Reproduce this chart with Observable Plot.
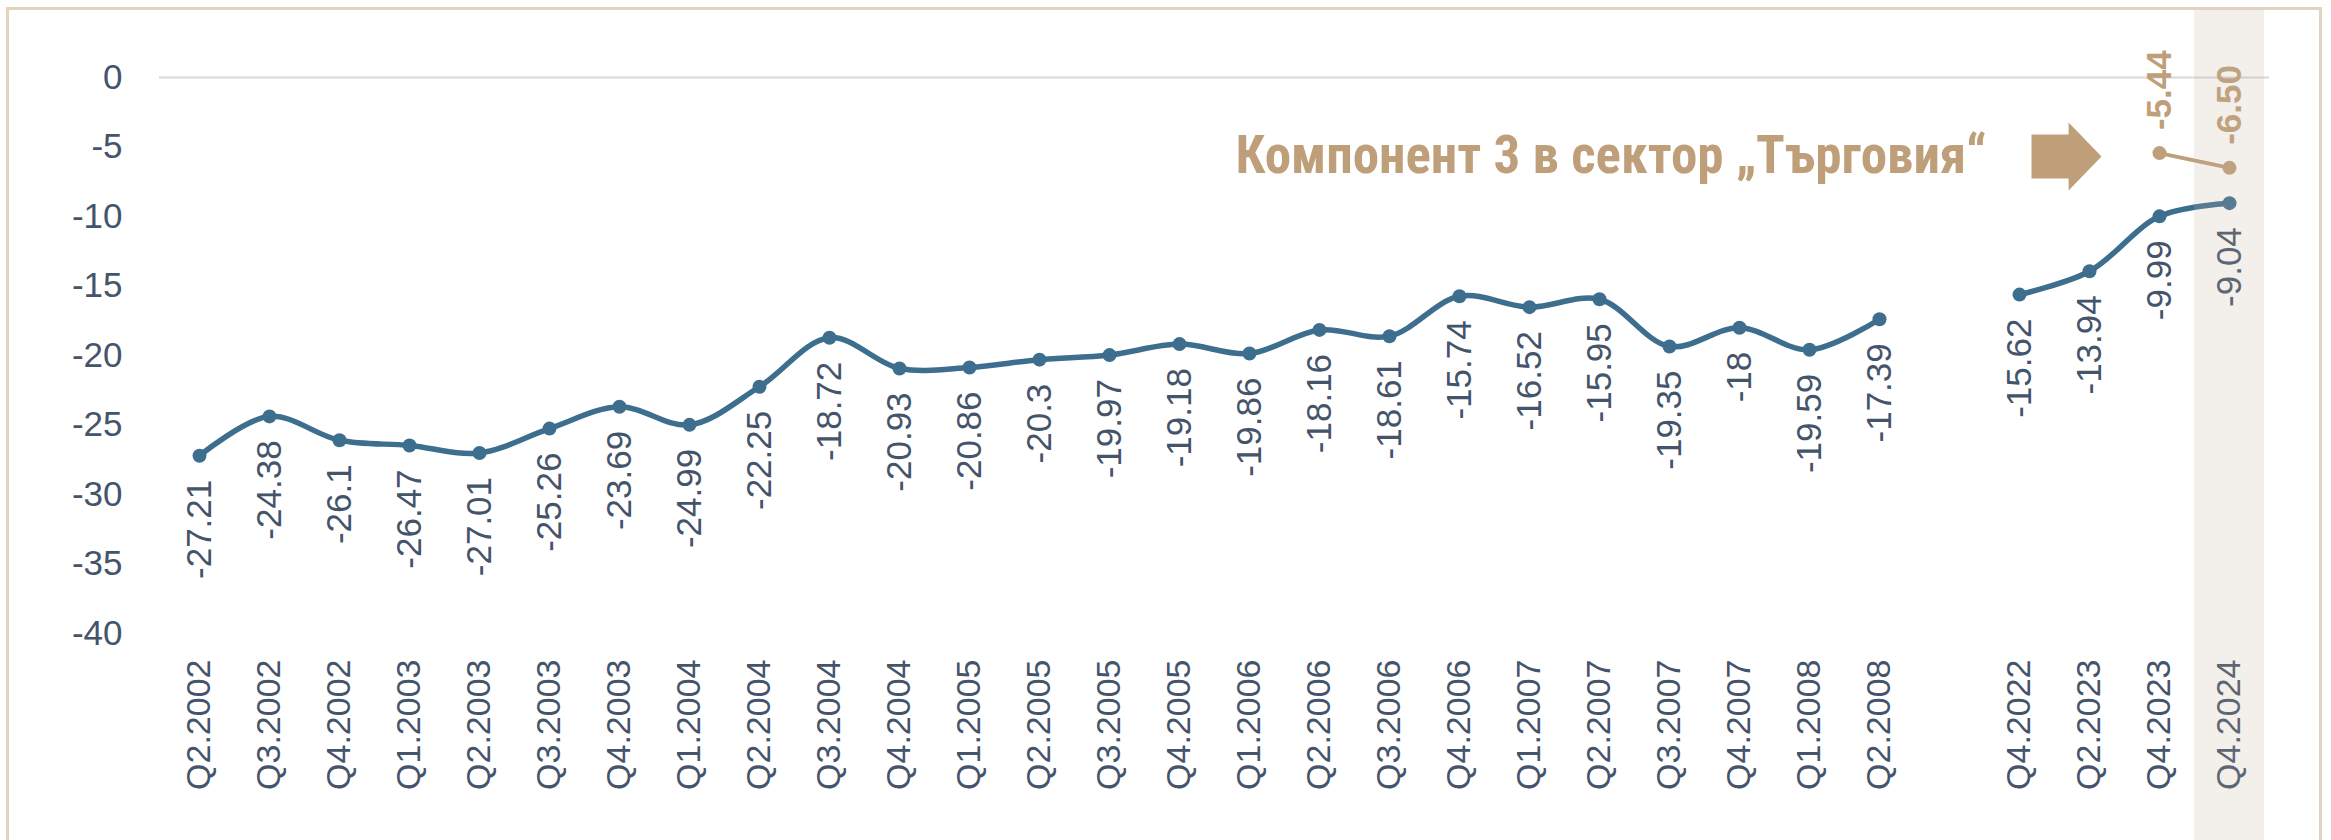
<!DOCTYPE html>
<html>
<head>
<meta charset="utf-8">
<script src="https://cdn.jsdelivr.net/npm/d3@7"></script>
<script src="https://cdn.jsdelivr.net/npm/@observablehq/plot@0.6"></script>
<style>
  html, body { margin: 0; padding: 0; background: #fff; overflow: hidden; width: 2331px; height: 840px; }
  #chart { position: absolute; left: 0; top: 0; }
  #frame { position: absolute; left: 6px; top: 7px; width: 2316px; height: 900px; border: 3px solid #e2d2c0; box-sizing: border-box; pointer-events: none; }
</style>
</head>
<body>
<div id="chart"></div>
<div id="frame"></div>
<script>
const categories = ["Q2.2002","Q3.2002","Q4.2002","Q1.2003","Q2.2003","Q3.2003","Q4.2003","Q1.2004","Q2.2004","Q3.2004","Q4.2004","Q1.2005","Q2.2005","Q3.2005","Q4.2005","Q1.2006","Q2.2006","Q3.2006","Q4.2006","Q1.2007","Q2.2007","Q3.2007","Q4.2007","Q1.2008","Q2.2008"," ","Q4.2022","Q2.2023","Q4.2023","Q4.2024"];
const values = [-27.21,-24.38,-26.1,-26.47,-27.01,-25.26,-23.69,-24.99,-22.25,-18.72,-20.93,-20.86,-20.3,-19.97,-19.18,-19.86,-18.16,-18.61,-15.74,-16.52,-15.95,-19.35,-18,-19.59,-17.39,null,-15.62,-13.94,-9.99,-9.04];
const tradeCategories = ["Q4.2023","Q4.2024"];
const tradeValues = [-5.44,-6.50];
const yTicks = [0,-5,-10,-15,-20,-25,-30,-35,-40];
const annotation = "Компонент 3 в сектор „Търговия“";
const highlight = ["Q4.2024"];

const main = categories.map((c, i) => ({cat: c, v: values[i]}));
const mainDefined = main.filter(d => d.v != null);
const trade = tradeCategories.map((c, i) => ({cat: c, v: tradeValues[i]}));

const blue = "#3d6e8e";
const tan = "#bf9f7a";
const textColor = "#44546a";

// block arrow symbol
const blockArrow = {
  draw(context, size) {
    const r = Math.sqrt(size / Math.PI);
    context.moveTo(-r, -0.63 * r);
    context.lineTo(0.06 * r, -0.63 * r);
    context.lineTo(0.06 * r, -0.97 * r);
    context.lineTo(r, 0);
    context.lineTo(0.06 * r, 0.97 * r);
    context.lineTo(0.06 * r, 0.63 * r);
    context.lineTo(-r, 0.63 * r);
    context.closePath();
  }
};

const chart = Plot.plot({
  width: 2331,
  height: 840,
  marginLeft: 159,
  marginRight: 62,
  marginTop: 7.5,
  marginBottom: 207,
  style: {fontFamily: "'Liberation Sans', Arial, sans-serif", background: "transparent", color: textColor},
  x: {type: "band", domain: categories, padding: 0, label: null, axis: null},
  y: {domain: [-40, 5], label: null, axis: null},
  marks: [
    Plot.ruleY([0], {stroke: "#d9d9d9", strokeWidth: 2}),
    Plot.axisY({ticks: yTicks, tickFormat: d => String(d), tickSize: 0, tickPadding: 37, fontSize: 35, fill: textColor, label: null}),
    Plot.axisX({tickSize: 0, tickPadding: 26, tickRotate: -90, fontSize: 34, fill: textColor, label: null}),
    Plot.line(main, {x: "cat", y: "v", curve: "catmull-rom", stroke: blue, strokeWidth: 5.5}),
    Plot.dot(mainDefined, {x: "cat", y: "v", r: 7, fill: blue}),
    Plot.text(mainDefined, {x: "cat", y: "v", text: d => String(d.v), rotate: -90, textAnchor: "end", dy: 24, fontSize: 35, fill: textColor}),
    Plot.line(trade, {x: "cat", y: "v", stroke: tan, strokeWidth: 4}),
    Plot.dot(trade, {x: "cat", y: "v", r: 7, fill: tan}),
    Plot.text(trade, {x: "cat", y: "v", text: d => d.v.toFixed(2), rotate: -90, textAnchor: "start", dy: -23, fontSize: 35, fontWeight: "bold", fill: tan}),
    Plot.text([annotation], {x: () => "Q4.2022", y: () => -5.68, text: d => d, textAnchor: "end", dx: -33, fontSize: 53, fontWeight: "bold", fill: tan, fontFamily: "'Roboto Condensed', 'Liberation Sans Narrow', Roboto, sans-serif"}),
    Plot.dot([0], {x: () => "Q2.2023", y: () => -5.68, dx: -23, r: 35, symbol: blockArrow, fill: tan, stroke: null}),
    Plot.cell(highlight, {x: d => d, fill: "#c3af9b", fillOpacity: 0.2, insetBottom: -220})
  ]
});
document.getElementById("chart").appendChild(chart);
</script>
</body>
</html>
